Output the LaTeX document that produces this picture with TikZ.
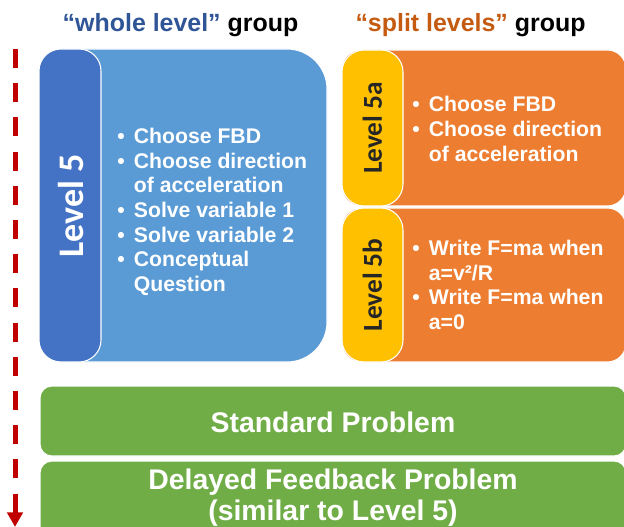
\documentclass[tikz,border=0pt]{standalone}
\usepackage{fontspec}
\setmainfont{Liberation Sans}
\newfontfamily\calib{Carlito}
\usetikzlibrary{arrows.meta}
\definecolor{blueL}{HTML}{5B9BD5}
\definecolor{blueD}{HTML}{4472C4}
\definecolor{orangeM}{HTML}{ED7D31}
\definecolor{yellowT}{HTML}{FFC000}
\definecolor{greenM}{HTML}{70AD47}
\definecolor{titleBlue}{HTML}{2F5597}
\definecolor{titleOrange}{HTML}{C55A11}
\definecolor{redD}{HTML}{C00000}
\definecolor{darkT}{HTML}{262626}
\newcommand{\bl}[1]{\makebox[12.5pt][l]{\textbullet}#1}
\newcommand{\cl}[1]{\hspace*{12.5pt}#1}
\begin{document}
\begin{tikzpicture}[x=0.75pt,y=-0.75pt,
  boxedge/.style={draw=white,line width=0.8pt},
  bullettext/.style={anchor=west,align=left,text=white,inner sep=0pt,
    font=\bfseries\fontsize{15.9pt}{18.5pt}\selectfont},
  tabwhite/.style={rotate=90,text=white,inner sep=0pt,
    font=\calib\bfseries\fontsize{27pt}{30pt}\selectfont},
  tabdark/.style={rotate=90,text=darkT,inner sep=0pt,
    font=\calib\bfseries\fontsize{20.5pt}{24pt}\selectfont},
  greentext/.style={align=center,text=white,inner sep=0pt,
    font=\bfseries\fontsize{21.3pt}{23.3pt}\selectfont},
  titletext/.style={anchor=base,inner sep=0pt,
    font=\bfseries\fontsize{18.7pt}{21pt}\selectfont}]
\useasboundingbox (0,0) rectangle (624,527);
\clip (0,0) rectangle (624,527);

% titles
\node[titletext] (t1) at (180.5,32) {\textcolor{titleBlue}{“whole level”} group};
\node[titletext] (t2) at (470.5,32) {\textcolor{titleOrange}{“split levels”} group};

% blue group
\fill[blueL,boxedge,rounded corners=30pt] (39,49) rectangle (327,362);
\fill[blueD,boxedge,rounded corners=16.5pt] (39,49) rectangle (101,362);
\node[tabwhite] (lv5) at (71,206) {Level 5};
\node[bullettext] (b5) at (117,212) {\bl{Choose FBD}\\\bl{Choose direction}\\\cl{of acceleration}\\\bl{Solve variable 1}\\\bl{Solve variable 2}\\\bl{Conceptual}\\\cl{Question}};

% orange group
\fill[orangeM,boxedge,rounded corners=14pt] (342,50) rectangle (626,206);
\fill[yellowT,boxedge,rounded corners=16.5pt] (342,50) rectangle (403,206);
\node[tabdark] (lv5a) at (372.5,128) {Level 5a};
\node[bullettext] (b5a) at (412,129) {\bl{Choose FBD}\\\bl{Choose direction}\\\cl{of acceleration}};

\fill[orangeM,boxedge,rounded corners=14pt] (342,208) rectangle (626,362);
\fill[yellowT,boxedge,rounded corners=16.5pt] (342,208) rectangle (403,362);
\node[tabdark] (lv5b) at (372.5,285) {Level 5b};
\node[bullettext] (b5b) at (412,285) {\bl{Write F=ma when}\\\cl{a=v²/R}\\\bl{Write F=ma when}\\\cl{a=0}};

% green boxes
\fill[greenM,boxedge,rounded corners=9pt] (40,386) rectangle (626,456);
\node[greentext] (sp) at (333,422) {Standard Problem};
\fill[greenM,boxedge,rounded corners=9pt] (40,461) rectangle (626,545);
\node[greentext] (dfp) at (333,497.5) {Delayed Feedback Problem\\(similar to Level 5)};

% red dashed arrow
\coordinate (aS) at (15,49);
\coordinate (aE) at (15,527);
\draw[redD,line width=3.75pt,dash pattern=on 14.25pt off 11.4pt,
  -{Triangle[width=11.5pt,length=11pt]}] (aS) -- (aE);
\end{tikzpicture}
\end{document}
